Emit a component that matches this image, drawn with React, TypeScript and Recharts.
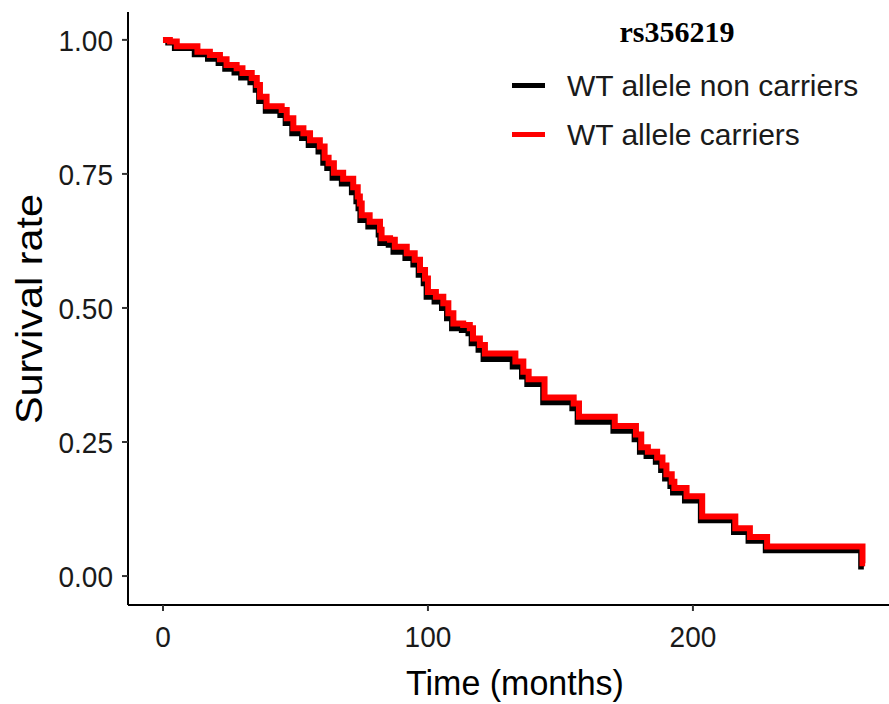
import { LineChart, Line, XAxis, YAxis } from 'recharts';

// Kaplan-Meier steps (months, survival)
const carrierTime = [
  0, 2.6, 5.2, 13, 17.7, 21.5, 24, 27.8, 30, 33.5, 35.4, 36.6, 39.1, 44.8, 46.7, 49.2, 53, 55.5,
  59.2, 61, 62.5, 64.5, 68, 71.8, 73.5, 74.3, 75, 78, 81.9, 82.5, 85.7, 87.5, 92, 95, 97, 98.9,
  100, 103, 105.8, 107.7, 109.6, 113.3, 115.8, 117, 119.6, 121.5, 133, 136, 138, 144, 155, 157,
  170.5, 178.5, 180.5, 183, 186.5, 188.5, 190, 192, 193, 197.6, 203.5, 216, 221.5, 228, 264, 265,
];
const carrierSurv = [
  1.0, 0.997, 0.988, 0.978, 0.972, 0.964, 0.953, 0.947, 0.938, 0.929, 0.916, 0.894, 0.876, 0.869,
  0.854, 0.835, 0.826, 0.813, 0.801, 0.78, 0.77, 0.752, 0.741, 0.725, 0.708, 0.695, 0.673, 0.661,
  0.646, 0.63, 0.627, 0.614, 0.602, 0.59, 0.571, 0.555, 0.53, 0.521, 0.509, 0.49, 0.471, 0.468,
  0.462, 0.443, 0.431, 0.415, 0.4, 0.381, 0.367, 0.333, 0.322, 0.297, 0.28, 0.264, 0.24, 0.232,
  0.221, 0.206, 0.19, 0.176, 0.164, 0.149, 0.111, 0.089, 0.073, 0.055, 0.024, 0.024,
];

const nonCarrierTime = [
  0, 2, 4.5, 12, 17, 21, 23.5, 27, 29.5, 33, 35, 36.3, 38.8, 44.3, 46.3, 48.8, 52.5, 55, 58.7,
  60.5, 62, 64, 67.5, 71.3, 73, 73.8, 74.5, 77.5, 81.4, 82, 85.2, 87, 91.5, 94.5, 96.5, 98.4, 99.5,
  102.5, 105.3, 107.2, 109.1, 112.8, 115.3, 116.5, 119.1, 121, 132, 135.5, 137.5, 143.5, 154.5,
  156.5, 170, 178, 180, 182.5, 186, 188, 189.5, 191.5, 192.5, 197, 203, 215.5, 221, 227.5, 263.5,
  264.5,
];
const nonCarrierSurv = [
  1.0, 0.995, 0.985, 0.973, 0.965, 0.957, 0.946, 0.939, 0.93, 0.921, 0.907, 0.886, 0.868, 0.86,
  0.845, 0.826, 0.817, 0.804, 0.792, 0.771, 0.761, 0.743, 0.732, 0.716, 0.699, 0.686, 0.664, 0.652,
  0.637, 0.621, 0.618, 0.605, 0.593, 0.581, 0.562, 0.546, 0.521, 0.512, 0.5, 0.481, 0.462, 0.459,
  0.453, 0.434, 0.422, 0.405, 0.391, 0.372, 0.358, 0.324, 0.313, 0.288, 0.271, 0.255, 0.232, 0.224,
  0.213, 0.198, 0.182, 0.168, 0.156, 0.141, 0.104, 0.082, 0.066, 0.048, 0.018, 0.018,
];

const xTicks = [0, 100, 200];
const yTicks = [0, 0.25, 0.5, 0.75, 1];

const seriesInfo = [
  { name: 'WT allele non carriers', color: '#000000' },
  { name: 'WT allele carriers', color: '#ff0000' },
];

const toRows = (t: number[], s: number[]) => t.map((v, i) => ({ t: v, s: s[i] }));
const nonCarrierData = toRows(nonCarrierTime, nonCarrierSurv);
const carrierData = toRows(carrierTime, carrierSurv);

const FONT = '"Liberation Sans", Arial, sans-serif';

// the source figure's text is a little taller than wide
const XTick = (p: any) => (
  <g transform={`translate(${p.x},${p.y}) scale(1,1.08)`}>
    <text x={0} y={0} dy="0.71em" textAnchor="middle" fontSize={28} fontFamily={FONT} fill="#1a1a1a">
      {p.payload.value}
    </text>
  </g>
);

const YTick = (p: any) => (
  <g transform={`translate(${p.x},${p.y}) scale(1,1.08)`}>
    <text x={0} y={0} dy="0.355em" textAnchor="end" fontSize={28} fontFamily={FONT} fill="#1a1a1a">
      {Number(p.payload.value).toFixed(2)}
    </text>
  </g>
);

function KmLegend() {
  return (
    <div style={{ position: 'absolute', left: 512, top: 61, fontFamily: FONT }}>
      {seriesInfo.map((s) => (
        <div key={s.name} style={{ display: 'flex', alignItems: 'center', height: 49 }}>
          <div style={{ width: 33, height: 5, background: s.color, marginRight: 22 }} />
          <span style={{ fontSize: 30, color: '#1a1a1a', lineHeight: '30px', whiteSpace: 'nowrap' }}>
            {s.name}
          </span>
        </div>
      ))}
    </div>
  );
}

export default function App() {
  return (
    <div style={{ position: 'absolute', left: 0, top: 0, width: 889, height: 704, background: '#fff' }}>
      <LineChart
        width={889}
        height={704}
        margin={{ top: 12, right: 0, bottom: 0, left: 0 }}
      >
        <XAxis
          dataKey="t"
          type="number"
          domain={[-13.2, 274]}
          ticks={xTicks}
          allowDataOverflow
          height={99}
          tickSize={6}
          tickMargin={15}
          axisLine={{ stroke: '#000', strokeWidth: 2 }}
          tickLine={{ stroke: '#333', strokeWidth: 2 }}
          tick={XTick}
          label={{
            content: () => (
              <text
                x={515}
                y={695}
                transform="translate(515 695) scale(1 1.05) translate(-515 -695)"
                textAnchor="middle"
                fontSize={34}
                fontFamily={FONT}
                fill="#000"
              >
                Time (months)
              </text>
            ),
          }}
        />
        <YAxis
          dataKey="s"
          type="number"
          domain={[-0.054, 1.052]}
          ticks={yTicks}
          allowDataOverflow
          width={128}
          tickSize={6}
          tickMargin={9}
          axisLine={{ stroke: '#000', strokeWidth: 2 }}
          tickLine={{ stroke: '#333', strokeWidth: 2 }}
          tick={YTick}
          label={{
            content: () => (
              <text
                x={42}
                y={309}
                transform="rotate(-90 42 309) translate(42 309) scale(1.12 1) translate(-42 -309)"
                textAnchor="middle"
                fontSize={37}
                fontFamily={FONT}
                fill="#000"
              >
                Survival rate
              </text>
            ),
          }}
        />
        <Line
          data={nonCarrierData}
          dataKey="s"
          name={seriesInfo[0].name}
          type="stepAfter"
          stroke={seriesInfo[0].color}
          strokeWidth={6}
          dot={false}
          activeDot={false}
          isAnimationActive={false}
        />
        <Line
          data={carrierData}
          dataKey="s"
          name={seriesInfo[1].name}
          type="stepAfter"
          stroke={seriesInfo[1].color}
          strokeWidth={6}
          dot={false}
          activeDot={false}
          isAnimationActive={false}
        />
      </LineChart>
      <KmLegend />
      <div
        style={{
          position: 'absolute',
          left: 577,
          top: 17,
          width: 200,
          textAlign: 'center',
          fontFamily: '"Liberation Serif", "Times New Roman", serif',
          fontWeight: 'bold',
          fontSize: 30,
          lineHeight: '30px',
          color: '#000',
        }}
      >
        rs356219
      </div>
    </div>
  );
}
